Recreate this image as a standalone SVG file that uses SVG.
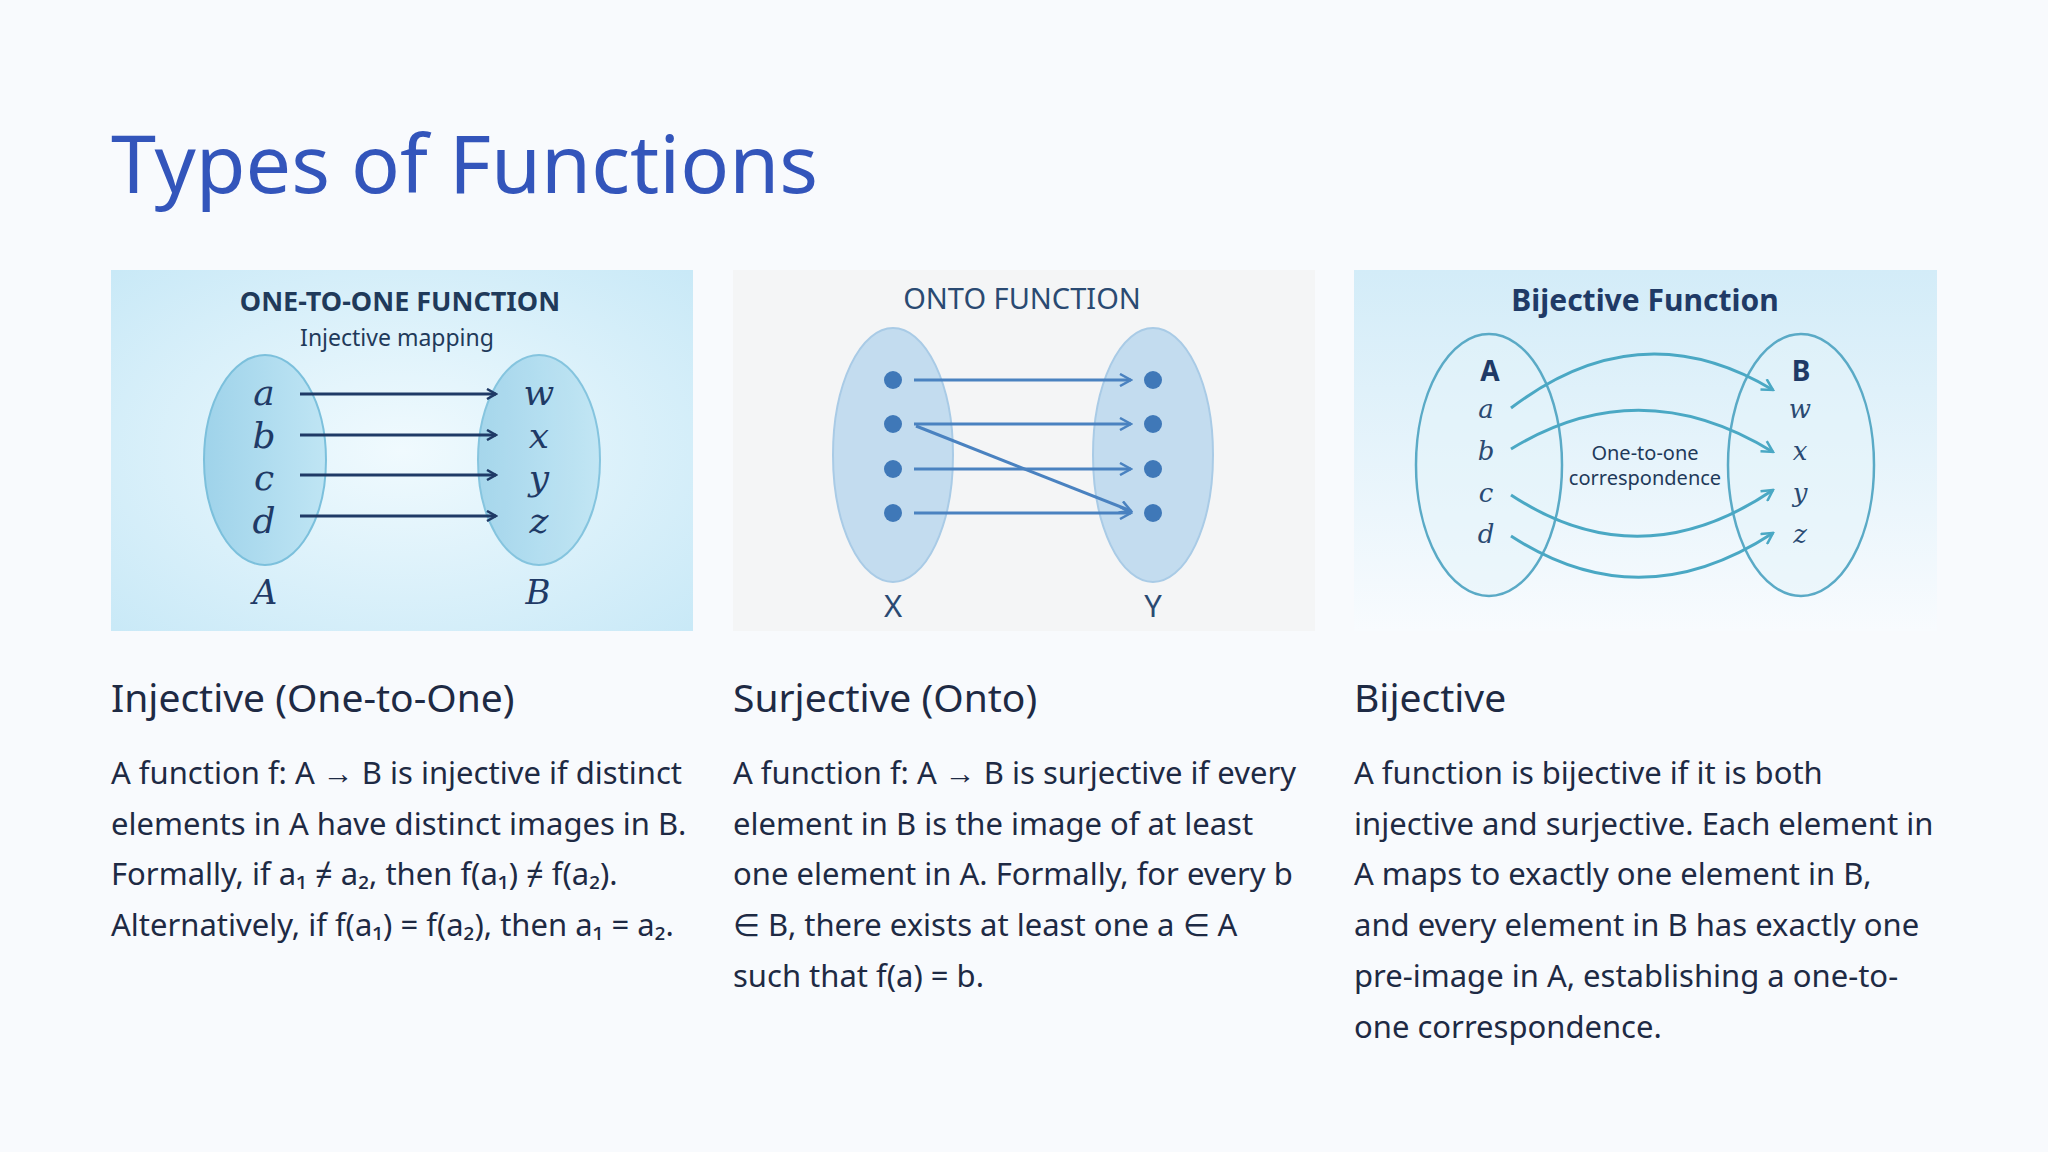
<svg xmlns="http://www.w3.org/2000/svg" width="2048" height="1152" viewBox="0 0 2048 1152">
<defs>
<radialGradient id="g1" cx="0.5" cy="0.5" r="0.7"><stop offset="0" stop-color="#f0fafe"/><stop offset="1" stop-color="#c9e9f7"/></radialGradient>
<linearGradient id="g3" x1="0" y1="0" x2="0" y2="1"><stop offset="0" stop-color="#d3ecf8"/><stop offset="1" stop-color="#f8fbfe"/></linearGradient>
<linearGradient id="e1" x1="0" y1="0" x2="1" y2="0"><stop offset="0" stop-color="#9fd3ea"/><stop offset="1" stop-color="#bfe5f4"/></linearGradient>
<marker id="m1" markerWidth="12" markerHeight="12" refX="10" refY="6" orient="auto" markerUnits="userSpaceOnUse"><path d="M1,1 L10,6 L1,11" fill="none" stroke="#1f3a66" stroke-width="2.5"/></marker>
<marker id="m2" markerWidth="14" markerHeight="14" refX="12" refY="7" orient="auto" markerUnits="userSpaceOnUse"><path d="M1,1 L12,7 L1,13" fill="none" stroke="#4a82c0" stroke-width="2.5"/></marker>
<marker id="m3" markerWidth="14" markerHeight="14" refX="12" refY="7" orient="auto" markerUnits="userSpaceOnUse"><path d="M1,1 L12,7 L1,13" fill="none" stroke="#4aa8c4" stroke-width="2.5"/></marker>
</defs>
<style>
.t{font-family:"Noto Sans","Open Sans",sans-serif}
.h{font-size:39px;fill:#1e2a44}
.b{font-size:31px;fill:#1e2a44}
.ser{font-family:"DejaVu Serif","Liberation Serif",serif;font-style:italic;font-size:36px;fill:#1f3a66;text-anchor:middle}
.a1{stroke:#1f3a66;stroke-width:3;marker-end:url(#m1)}
.a2{stroke:#4a82c0;stroke-width:3;fill:none;marker-end:url(#m2)}
.a3{stroke:#4aa8c4;stroke-width:3;fill:none;marker-end:url(#m3)}
</style>
<rect width="2048" height="1152" fill="#f8fafd"/>
<text class="t" x="111" y="193" font-size="81" fill="#3355bb">Types of Functions</text>

<g id="panel1">
<rect x="111" y="270" width="582" height="361" fill="url(#g1)"/>
<text class="t" x="400" y="311" font-size="27" font-weight="bold" fill="#1f3a5a" text-anchor="middle">ONE-TO-ONE FUNCTION</text>
<text class="t" x="397" y="346" font-size="23" fill="#1f3a5a" text-anchor="middle">Injective mapping</text>
<ellipse cx="265" cy="460" rx="61" ry="105" fill="url(#e1)" stroke="#7cc0dc" stroke-width="2"/>
<ellipse cx="539" cy="460" rx="61" ry="105" fill="url(#e1)" stroke="#7cc0dc" stroke-width="2" opacity="0.9"/>
<g class="ser"><text x="264" y="405">a</text><text x="264" y="448">b</text><text x="264" y="490">c</text><text x="264" y="533">d</text>
<text x="539" y="405">w</text><text x="539" y="448">x</text><text x="539" y="490">y</text><text x="539" y="533">z</text>
<text x="265" y="604" font-size="34">A</text><text x="538" y="604" font-size="34">B</text></g>
</g>
<g id="panel2">
<rect x="733" y="270" width="582" height="361" fill="#f4f5f6"/>
<text class="t" x="1022" y="309" font-size="29" fill="#2a4a72" text-anchor="middle">ONTO FUNCTION</text>
<ellipse cx="893" cy="455" rx="60" ry="127" fill="#c3dcef" stroke="#a9cbe6" stroke-width="2"/>
<ellipse cx="1153" cy="455" rx="60" ry="127" fill="#c3dcef" stroke="#a9cbe6" stroke-width="2"/>
<g fill="#3f78b8"><circle cx="893" cy="380" r="9"/><circle cx="893" cy="424" r="9"/><circle cx="893" cy="469" r="9"/><circle cx="893" cy="513" r="9"/>
<circle cx="1153" cy="380" r="9"/><circle cx="1153" cy="424" r="9"/><circle cx="1153" cy="469" r="9"/><circle cx="1153" cy="513" r="9"/></g>
<text class="t" x="893" y="617" font-size="31" fill="#2a4a72" text-anchor="middle">X</text>
<text class="t" x="1153" y="617" font-size="31" fill="#2a4a72" text-anchor="middle">Y</text>
</g>
<g id="panel3">
<rect x="1354" y="270" width="583" height="361" fill="url(#g3)"/>
<text class="t" x="1645" y="311" font-size="30" font-weight="bold" fill="#1f3a66" text-anchor="middle">Bijective Function</text>
<ellipse cx="1489" cy="465" rx="73" ry="131" fill="#e4f3fa" fill-opacity="0.5" stroke="#5aaac6" stroke-width="2.5"/>
<ellipse cx="1801" cy="465" rx="73" ry="131" fill="#e4f3fa" fill-opacity="0.5" stroke="#5aaac6" stroke-width="2.5"/>
<text class="t" x="1490" y="381" font-size="28" font-weight="bold" fill="#1f3a66" text-anchor="middle">A</text>
<text class="t" x="1801" y="381" font-size="28" font-weight="bold" fill="#1f3a66" text-anchor="middle">B</text>
<g class="ser" style="font-size:26px;fill:#2a4a72"><text x="1486" y="418">a</text><text x="1486" y="460">b</text><text x="1486" y="502">c</text><text x="1486" y="543">d</text>
<text x="1800" y="418">w</text><text x="1800" y="460">x</text><text x="1800" y="502">y</text><text x="1800" y="543">z</text></g>
<text class="t" x="1645" y="460" font-size="20" fill="#1f3a5a" text-anchor="middle">One-to-one</text>
<text class="t" x="1645" y="485" font-size="20" fill="#1f3a5a" text-anchor="middle">correspondence</text>
</g>
<g id="connectors">
<line class="a1" x1="300" y1="394" x2="496" y2="394"/>
<line class="a1" x1="300" y1="435" x2="496" y2="435"/>
<line class="a1" x1="300" y1="475" x2="496" y2="475"/>
<line class="a1" x1="300" y1="516" x2="496" y2="516"/>
<line class="a2" x1="914" y1="380" x2="1131" y2="380"/>
<line class="a2" x1="914" y1="424" x2="1131" y2="424"/>
<line class="a2" x1="914" y1="469" x2="1131" y2="469"/>
<line class="a2" x1="914" y1="513" x2="1131" y2="513"/>
<line class="a2" x1="916" y1="426" x2="1131" y2="511"/>
<path class="a3" d="M1511,408 Q1640,310 1773,390"/>
<path class="a3" d="M1511,449 Q1640,370 1773,452"/>
<path class="a3" d="M1511,495 Q1640,580 1773,490"/>
<path class="a3" d="M1511,536 Q1640,620 1773,533"/>
</g>
<g id="text1" class="t">
<text class="h" x="111" y="712">Injective (One-to-One)</text>
<text class="b" x="111" y="784">A function f: A → B is injective if distinct</text>
<text class="b" x="111" y="835">elements in A have distinct images in B.</text>
<text class="b" x="111" y="885">Formally, if a₁ ≠ a₂, then f(a₁) ≠ f(a₂).</text>
<text class="b" x="111" y="936">Alternatively, if f(a₁) = f(a₂), then a₁ = a₂.</text>
</g>
<g id="text2" class="t">
<text class="h" x="733" y="712">Surjective (Onto)</text>
<text class="b" x="733" y="784">A function f: A → B is surjective if every</text>
<text class="b" x="733" y="835">element in B is the image of at least</text>
<text class="b" x="733" y="885">one element in A. Formally, for every b</text>
<text class="b" x="733" y="936">∈ B, there exists at least one a ∈ A</text>
<text class="b" x="733" y="987">such that f(a) = b.</text>
</g>
<g id="text3" class="t">
<text class="h" x="1354" y="712">Bijective</text>
<text class="b" x="1354" y="784">A function is bijective if it is both</text>
<text class="b" x="1354" y="835">injective and surjective. Each element in</text>
<text class="b" x="1354" y="885">A maps to exactly one element in B,</text>
<text class="b" x="1354" y="936">and every element in B has exactly one</text>
<text class="b" x="1354" y="987">pre-image in A, establishing a one-to-</text>
<text class="b" x="1354" y="1038">one correspondence.</text>
</g>
</svg>
